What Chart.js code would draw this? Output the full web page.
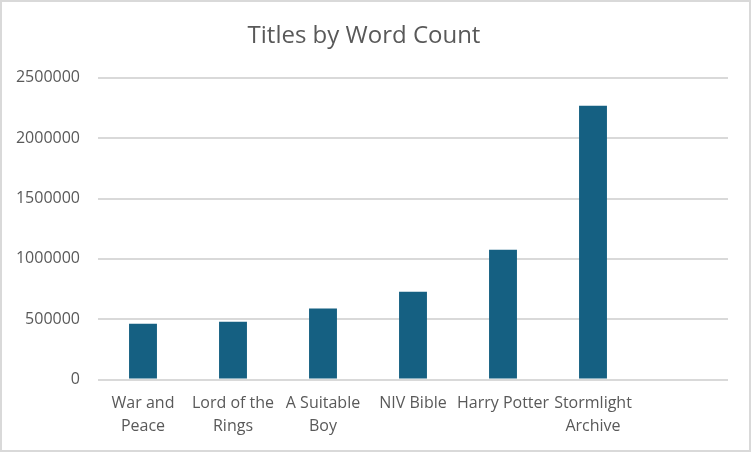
<!DOCTYPE html>
<html>
<head>
<meta charset="utf-8">
<script src="https://cdn.jsdelivr.net/npm/chart.js@4.4.1/dist/chart.umd.min.js"></script>
<style>
  body { margin: 0; background: #fff; }
</style>
</head>
<body>
<canvas id="myChart" width="751" height="452"></canvas>
<script>
var xValues = [["War and", "Peace"], ["Lord of the", "Rings"], ["A Suitable", "Boy"], "NIV Bible", "Harry Potter", ["Stormlight", "Archive"], ""];
var yValues = [463000, 480000, 588000, 728000, 1076000, 2268000, null];
var yTicks = [0, 500000, 1000000, 1500000, 2000000, 2500000];
var barColor = "#156082";
var textColor = "#595959";

// light grey frame round the whole chart
var frame = {
  id: "frame",
  afterDraw: function(chart) {
    var ctx = chart.ctx;
    ctx.save();
    ctx.strokeStyle = "#d9d9d9";
    ctx.lineWidth = 2;
    ctx.strokeRect(1, 1, chart.width - 2, chart.height - 2);
    ctx.restore();
  }
};

new Chart("myChart", {
  type: "bar",
  data: {
    labels: xValues,
    datasets: [{
      backgroundColor: barColor,
      data: yValues,
      categoryPercentage: 1,
      barPercentage: 0.31
    }]
  },
  options: {
    responsive: false,
    animation: false,
    layout: { padding: { left: 0, right: 23, top: 0, bottom: 2 } },
    plugins: {
      legend: { display: false },
      tooltip: { enabled: false },
      title: {
        display: true,
        text: "Titles by Word Count",
        color: textColor,
        font: { family: "Open Sans", size: 24, weight: "normal" },
        padding: { top: 22, bottom: 27 }
      }
    },
    scales: {
      x: {
        grid: { display: false, drawTicks: false },
        border: { display: false },
        ticks: {
          color: textColor,
          font: { family: "Open Sans", size: 16, lineHeight: 1.45 },
          padding: 12,
          maxRotation: 0,
          autoSkip: false
        }
      },
      y: {
        min: 0,
        max: 2500000,
        afterFit: function(scale) { scale.width = 98; },
        afterBuildTicks: function(scale) {
          scale.ticks = yTicks.map(function(v) { return { value: v }; });
        },
        grid: { color: "#d9d9d9", lineWidth: 2, drawTicks: false },
        border: { display: false },
        ticks: {
          color: textColor,
          font: { family: "Open Sans", size: 16 },
          padding: 18,
          callback: function(v) { return String(v); }
        }
      }
    }
  },
  plugins: [frame]
});
</script>
</body>
</html>
